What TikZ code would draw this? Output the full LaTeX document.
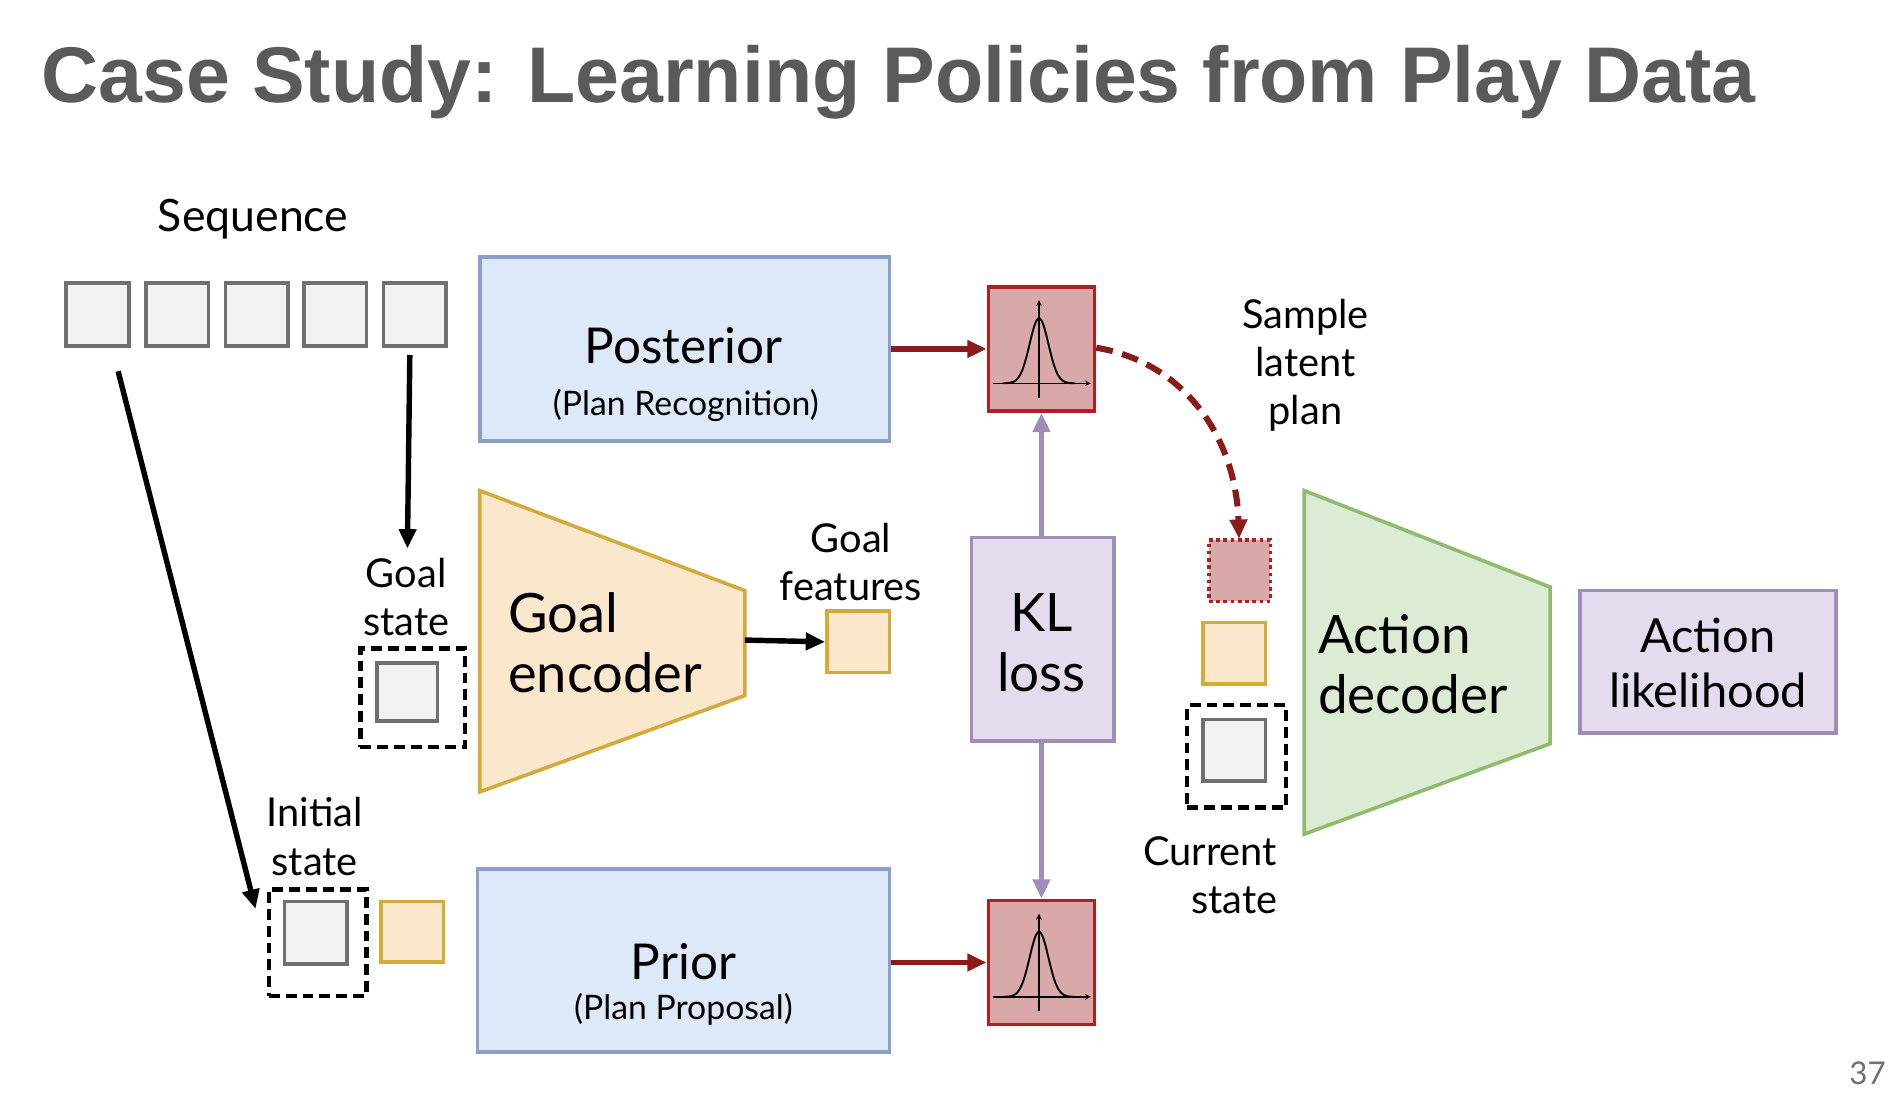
\documentclass[tikz,border=0pt]{standalone}
\usepackage{fontspec}
\setmainfont{Lato}
\newfontfamily\titlefont{Liberation Sans}
\usetikzlibrary{arrows.meta,calc}
\definecolor{sqgray}{HTML}{707070}
\definecolor{sqfill}{HTML}{F2F2F2}
\definecolor{blfill}{HTML}{DDE8F8}
\definecolor{blline}{HTML}{8AA0C8}
\definecolor{rdfill}{HTML}{D9A9A9}
\definecolor{rdline}{HTML}{B02020}
\definecolor{darkred}{HTML}{8B1A1A}
\definecolor{yefill}{HTML}{FBE8CC}
\definecolor{yeline}{HTML}{D4AA3A}
\definecolor{pufill}{HTML}{E5DBEF}
\definecolor{puline}{HTML}{A08CB8}
\definecolor{grfill}{HTML}{DCECD4}
\definecolor{grline}{HTML}{8CBC6C}
\tikzset{
 sq/.style={draw=sqgray,fill=sqfill,line width=3pt,minimum width=52pt,minimum height=52pt,inner sep=0pt},
 ysq/.style={draw=yeline,fill=yefill,line width=3pt,minimum width=52pt,minimum height=51pt,inner sep=0pt},
 dbox/.style={draw=black,line width=3.5pt,dash pattern=on 9pt off 5pt,inner sep=0pt},
 bbox/.style={draw=blline,fill=blfill,line width=3pt,inner sep=0pt},
 rbox/.style={draw=rdline,fill=rdfill,line width=3pt,minimum width=88pt,minimum height=103pt,inner sep=0pt},
 pbox/.style={draw=puline,fill=pufill,line width=3pt,inner sep=0pt},
 lbl/.style={font=\fontsize{33}{40}\selectfont,align=center},
 blk/.style={-{Triangle[length=16pt,width=14pt]},line width=4.5pt,black},
 rar/.style={-{Triangle[length=16pt,width=14pt]},line width=4.5pt,darkred},
 par/.style={-{Triangle[length=16pt,width=14pt]},line width=4.5pt,puline},
}
\begin{document}
\begin{tikzpicture}[x=1pt,y=-1pt]
\useasboundingbox (0,0) rectangle (1568,916);
\fill[white] (0,0) rectangle (1568,916);
\node[anchor=west,text=sqgray!80!black,font=\titlefont\bfseries\fontsize{65.5}{70}\selectfont] (title) at (31,68) {Case Study: Learning Policies from Play Data};
\node[lbl,font=\fontsize{37}{40}\selectfont] (seqlbl) at (210,182) {Sequence};
\foreach \i/\x in {1/81,2/147,3/213,4/278,5/344}{\node[sq] (s\i) at (\x,261) {};}
% posterior
\node[bbox,minimum width=340pt,minimum height=153pt] (post) at (568,289.5) {};
\node[font=\fontsize{41}{44}\selectfont] at (567,287) {Posterior};
\node[font=\fontsize{28}{30}\selectfont] at (569,336) {(Plan Recognition)};
% prior
\node[bbox,minimum width=342pt,minimum height=152pt] (prior) at (567,797) {};
\node[font=\fontsize{41}{44}\selectfont] at (567,798) {Prior};
\node[font=\fontsize{28}{30}\selectfont] at (567,837) {(Plan Proposal)};
% dists
\node[rbox] (d1) at (864,289.5) {};
\node[rbox] (d2) at (864,798.5) {};
\draw[line width=1.2pt,-stealth] (824,318) -- (905,318);
\draw[line width=1.2pt,-stealth] (862,330) -- (862,249);
\draw[line width=1.6pt] plot[domain=-30:30,samples=40,smooth] ({862+\x},{318-54*exp(-(\x/11)^2)});
\draw[line width=1.2pt,-stealth] (824,827) -- (905,827);
\draw[line width=1.2pt,-stealth] (862,839) -- (862,758);
\draw[line width=1.6pt] plot[domain=-30:30,samples=40,smooth] ({862+\x},{827-54*exp(-(\x/11)^2)});
\draw[rar] (post.east |- d1) -- (d1.west);
\draw[rar] (prior.east |- d2) -- (d2.west);
% KL
\node[pbox,minimum width=118pt,minimum height=169pt] (kl) at (865,530.5) {};
\node[font=\fontsize{44}{50}\selectfont,align=center] at (864,533) {KL\\loss};
\draw[par] (kl.north -| d1) -- (d1.south);
\draw[par] (kl.south -| d2) -- (d2.north);
% goal encoder
\draw[yeline,fill=yefill,line width=3pt] (398,407) -- (618,490) -- (618,577) -- (398,657) -- cycle;
\node[font=\fontsize{45}{50}\selectfont,align=left,anchor=west] (genc) at (418,533) {Goal\\encoder};
\node[ysq] (gf) at (712,532.5) {};
\coordinate (gencr) at (618,531);
\draw[blk] (gencr) -- (gf.west);
\node[lbl] at (706,466) {Goal\\features};
% goal state
\node[dbox,minimum width=87pt,minimum height=82pt] (gsb) at (342.5,579) {};
\node[sq,minimum width=50pt,minimum height=48pt] (gs) at (338,574) {};
\node[lbl] at (337,495) {Goal\\state};
\coordinate (gsarr) at (338,455);
\draw[blk] (s5.south) ++(-4,6) -- (gsarr);
% initial state
\node[dbox,minimum width=81pt,minimum height=88pt] (isb) at (263.5,782) {};
\node[sq] (is) at (262,774) {};
\node[ysq,minimum height=50pt] (iy) at (342,773) {};
\node[lbl] at (261,694) {Initial\\state};
\coordinate (isarr) at (212,754);
\draw[blk] (98,308) -- (isarr);
% sample
\coordinate (latent) at (1028,447);
\draw[darkred,line width=5pt,dash pattern=on 14pt off 8pt,-{Triangle[length=16pt,width=14pt]}] (d1.east) ++(0,-1) .. controls (980,300) and (1025,360) .. (latent);
\node[lbl] at (1083,303) {Sample\\latent\\plan};
\node[draw=rdline,fill=rdfill,line width=3pt,dash pattern=on 3pt off 3pt,minimum width=51pt,minimum height=51pt,inner sep=0pt] (lp) at (1028.5,473.5) {};
\node[ysq] (cy) at (1024,542) {};
\node[dbox,minimum width=82pt,minimum height=85pt] (csb) at (1026,627.5) {};
\node[sq,minimum height=51pt] (cs) at (1024,622.5) {};
\node[lbl] at (1004,726) {Current\\\hspace*{40pt}state};
% action decoder
\draw[grline,fill=grfill,line width=3pt] (1082,407) -- (1286,487) -- (1286,617) -- (1082,692) -- cycle;
\node[font=\fontsize{44}{50}\selectfont,align=left,anchor=west] (adec) at (1090,551) {Action\\decoder};
\node[pbox,minimum width=212pt,minimum height=118pt] (al) at (1417,549) {};
\node[font=\fontsize{39}{46}\selectfont,align=center] at (1417,550) {Action\\likelihood};
\node[text=sqgray,font=\fontsize{26}{30}\selectfont,anchor=east] (pg) at (1568,890) {37};
\end{tikzpicture}
\end{document}
